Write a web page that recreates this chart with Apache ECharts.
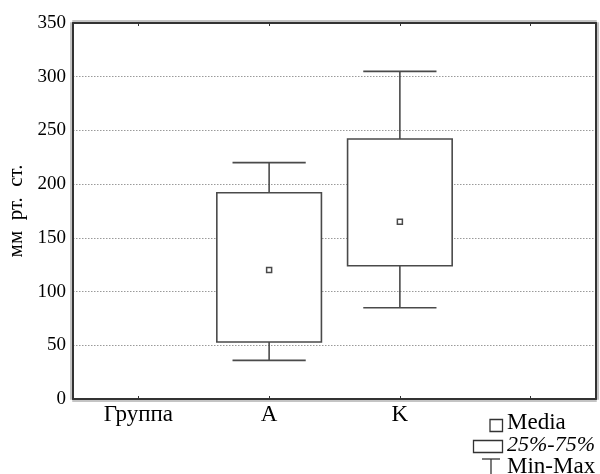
<!DOCTYPE html>
<html>
<head>
<meta charset="utf-8">
<script src="https://cdn.jsdelivr.net/npm/echarts@6/dist/echarts.min.js"></script>
<style>
  html, body { margin: 0; padding: 0; background: #fff; }
  #chart { width: 600px; height: 474px; }
</style>
</head>
<body>
<div id="chart"></div>
<script>
// categories on the x axis (last slot is empty, as in the original)
const categories = ["Группа", "A", "K", ""];
// groups that carry data
const groups = ["A", "K"];
const mins = [36, 85];
const q1 = [53, 124];
const medians = [120, 165];
const q3 = [192, 242];
const maxs = [220, 305];

const serif = "'Liberation Serif', 'DejaVu Serif', serif";
const lineColor = "#4a4a4a";

const boxData = groups.map((g, i) => [g, mins[i], q1[i], medians[i], q3[i], maxs[i]]);

function renderBox(params, api) {
  const cat = api.value(0);
  const band = api.size([1, 0])[0];
  const pMin = api.coord([cat, api.value(1)]);
  const pQ1 = api.coord([cat, api.value(2)]);
  const pMed = api.coord([cat, api.value(3)]);
  const pQ3 = api.coord([cat, api.value(4)]);
  const pMax = api.coord([cat, api.value(5)]);
  const x = pMin[0];
  const bw = band * 0.8;
  const cw = band * 0.56;
  const ms = 5;
  const st = { stroke: lineColor, lineWidth: 1.6, fill: null };
  return {
    type: "group",
    children: [
      { type: "line", shape: { x1: x, y1: pMax[1], x2: x, y2: pQ3[1] }, style: st },
      { type: "line", shape: { x1: x, y1: pQ1[1], x2: x, y2: pMin[1] }, style: st },
      { type: "line", shape: { x1: x - cw / 2, y1: pMax[1], x2: x + cw / 2, y2: pMax[1] }, style: st },
      { type: "line", shape: { x1: x - cw / 2, y1: pMin[1], x2: x + cw / 2, y2: pMin[1] }, style: st },
      { type: "rect", shape: { x: x - bw / 2, y: pQ3[1], width: bw, height: pQ1[1] - pQ3[1] },
        style: { stroke: lineColor, lineWidth: 1.6, fill: "#fff" } },
      { type: "rect", shape: { x: x - ms / 2, y: pMed[1] - ms / 2, width: ms, height: ms },
        style: { stroke: lineColor, lineWidth: 1.5, fill: "#fff" } }
    ]
  };
}

// dark frame line with a light grey edge on its outer side
function frame(dx, dy) {
  return { color: "#333", width: 2, shadowColor: "#c4c4c4", shadowBlur: 0, shadowOffsetX: dx, shadowOffsetY: dy };
}

const chart = echarts.init(document.getElementById("chart"), null, { renderer: "canvas" });

chart.setOption({
  animation: false,
  backgroundColor: "#fff",
  grid: { left: 73, right: 4, top: 23, bottom: 75, containLabel: false, outerBoundsMode: "none" },
  xAxis: [
    {
      type: "category",
      data: categories,
      position: "bottom",
      axisLine: { onZero: false, lineStyle: frame(0, 2) },
      axisTick: { show: true, inside: true, length: 3, alignWithLabel: true, lineStyle: { color: "#333" } },
      axisLabel: { color: "#000", fontFamily: serif, fontSize: 23, margin: 4 },
      splitLine: { show: false }
    },
    {
      type: "category",
      data: categories,
      position: "top",
      axisLine: { onZero: false, lineStyle: frame(0, -2) },
      axisTick: { show: true, inside: true, length: 3, alignWithLabel: true, lineStyle: { color: "#333" } },
      axisLabel: { show: false },
      splitLine: { show: false }
    }
  ],
  yAxis: [
    {
      type: "value",
      min: 0, max: 350, interval: 50,
      name: "мм  рт.  ст.",
      nameLocation: "middle",
      nameGap: 42,
      nameTextStyle: { color: "#000", fontFamily: serif, fontSize: 21 },
      axisLine: { show: true, onZero: false, lineStyle: frame(-2, 0) },
      axisTick: { show: false },
      axisLabel: { color: "#000", fontFamily: serif, fontSize: 19, margin: 7 },
      splitLine: {
        show: true,
        showMinLine: false, showMaxLine: false,
        lineStyle: { color: "#9a9a9a", type: [1.5, 1.5], width: 1 }
      }
    },
    {
      type: "value",
      min: 0, max: 350, interval: 50,
      position: "right",
      axisLine: { show: true, onZero: false, lineStyle: frame(2, 0) },
      axisTick: { show: false },
      axisLabel: { show: false },
      splitLine: { show: false }
    }
  ],
  series: [
    {
      type: "custom",
      renderItem: renderBox,
      data: boxData,
      encode: { x: 0, y: [1, 2, 3, 4, 5] },
      z: 5
    }
  ],
  graphic: [
    { type: "rect", shape: { x: 490, y: 419.5, width: 12.5, height: 12 }, style: { fill: "#fff", stroke: "#333", lineWidth: 1.3 } },
    { type: "text", x: 507, y: 434, style: { text: "Media", font: "23px " + serif, fill: "#000", textVerticalAlign: "bottom" } },
    { type: "rect", shape: { x: 473.5, y: 440.5, width: 29, height: 12 }, style: { fill: "#fff", stroke: "#333", lineWidth: 1.3 } },
    { type: "text", x: 507, y: 456, style: { text: "25%-75%", font: "italic 22px " + serif, fill: "#000", textVerticalAlign: "bottom" } },
    { type: "line", shape: { x1: 482, y1: 459, x2: 500, y2: 459 }, style: { stroke: "#333", lineWidth: 1.3 } },
    { type: "line", shape: { x1: 491, y1: 459, x2: 491, y2: 476 }, style: { stroke: "#333", lineWidth: 1.3 } },
    { type: "text", x: 507, y: 478, style: { text: "Min-Max", font: "23px " + serif, fill: "#000", textVerticalAlign: "bottom" } }
  ]
});
</script>
</body>
</html>
